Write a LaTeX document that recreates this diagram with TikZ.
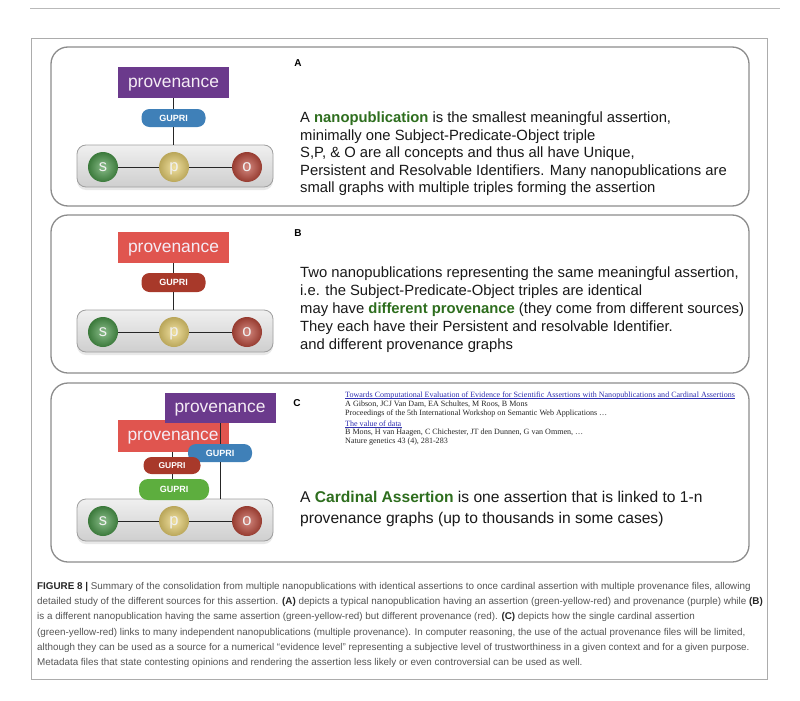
\documentclass[tikz,border=0pt]{standalone}
\usepackage{fontspec}
\setmainfont{Liberation Sans}
\newfontfamily\refserif{Liberation Serif}
\usetikzlibrary{shadows}
\definecolor{provpurple}{HTML}{6B3A8C}
\definecolor{provred}{HTML}{E0554F}
\definecolor{gupriblue}{HTML}{3F80B8}
\definecolor{gupridark}{HTML}{A8392A}
\definecolor{guprigreen}{HTML}{5DAE3E}
\definecolor{sgreen}{HTML}{4A984A}
\definecolor{pyellow}{HTML}{E8D070}
\definecolor{ored}{HTML}{BC4A3C}
\definecolor{boldgreen}{HTML}{2E6E1E}
\definecolor{panelgray}{HTML}{8C8C8C}
\definecolor{captiongray}{HTML}{555555}
\definecolor{linkblue}{HTML}{3030B0}
\definecolor{provtext}{HTML}{F5ECF5}
\newcommand\spogroup[2]{%
  \node[spobox] (#1box) at (175,#2) {};
  \node[spoball=sgreen] (#1s) at (103,#2+1) {s};
  \node[spoball=pyellow] (#1p) at (174,#2+1) {p};
  \node[spoball=ored] (#1o) at (247,#2+1) {o};
  \draw[link] (#1s) -- (#1p);
  \draw[link] (#1p) -- (#1o);
}
\begin{document}
\begin{tikzpicture}[x=1pt,y=-1pt,
  panel/.style={draw=panelgray, line width=1.3pt, rounded corners=17pt},
  prov/.style={rectangle, inner sep=0, minimum width=111pt, minimum height=31pt,
    text depth=0pt, text=provtext, font=\fontsize{17.4}{20}\selectfont},
  gupri/.style={rectangle, rounded corners=8pt, inner sep=0, minimum width=64pt,
    minimum height=18pt, text=white, font=\bfseries\fontsize{9}{10}\selectfont},
  spobox/.style={rectangle, rounded corners=9pt, minimum width=196pt, minimum height=42pt,
    top color=gray!12, bottom color=gray!38, draw=gray!75, line width=0.8pt,
    drop shadow={opacity=0.18, shadow xshift=0pt, shadow yshift=-3pt}},
  spoball/.style={circle, inner sep=0, minimum size=30pt, inner color=#1!65!white,
    outer color=#1!80!black, text=white!94!black, text depth=0pt,
    font=\fontsize{16.5}{18}\selectfont},
  link/.style={line width=1pt, black!85},
  body/.style={anchor=base west, inner sep=0, font=\fontsize{14.8}{17}\selectfont, text=black!90},
  bodyc/.style={body, font=\fontsize{15.6}{18}\selectfont},
  tag/.style={inner sep=0, font=\bfseries\fontsize{10}{11}\selectfont},
  capline/.style={anchor=base west, inner sep=0, font=\fontsize{9.85}{11}\selectfont, text=captiongray},
  refs/.style={anchor=base west, inner sep=0, font=\refserif\fontsize{8.05}{9}\selectfont, text=black!85},
  reflink/.style={refs, text=linkblue},
  uline/.style={draw=linkblue, line width=0.4pt}
]
\useasboundingbox (0,0) rectangle (800,701);
\fill[white] (0,0) rectangle (800,701);

% page rule and outer frame
\draw[gray!55, line width=0.8pt] (30,8) -- (780,8);
\draw[gray!65, line width=0.8pt] (31,38) rectangle (767,679);

% panels
\draw[panel] (51,47) rectangle (749,206);
\draw[panel] (51,215) rectangle (749,373);
\draw[panel] (51,383) rectangle (749,562);

% ---------- Panel A ----------
\node[tag] (la) at (298,63) {A};
\spogroup{a}{166}
\node[prov, fill=provpurple] (aprov) at (173.5,82.5) {provenance};
\node[gupri, fill=gupriblue] (agupri) at (173.5,118) {GUPRI};
\draw[link] (aprov.south) -- (agupri.north);
\draw[link] (agupri.south) -- (agupri.south |- abox.north);

\node[body] (ta1) at (300,122.5) {A \textcolor{boldgreen}{\textbf{nanopublication}} is the smallest meaningful assertion,};
\node[body] (ta2) at (300,140) {minimally one Subject-Predicate-Object triple};
\node[body] (ta3) at (300,157.5) {S,P, \& O are all concepts and thus all have Unique,};
\node[body] (ta4) at (300,175) {Persistent and Resolvable Identifiers. Many nanopublications are};
\node[body] (ta5) at (300,192.5) {small graphs with multiple triples forming the assertion};

% ---------- Panel B ----------
\node[tag] (lb) at (298,233) {B};
\spogroup{b}{331}
\node[prov, fill=provred] (bprov) at (173.5,247.5) {provenance};
\node[gupri, fill=gupridark, minimum height=19pt] (bgupri) at (173.5,282.5) {GUPRI};
\draw[link] (bprov.south) -- (bgupri.north);
\draw[link] (bgupri.south) -- (bgupri.south |- bbox.north);

\node[body] (tb1) at (300,277.5) {Two nanopublications representing the same meaningful assertion,};
\node[body] (tb2) at (300,295) {i.e. the Subject-Predicate-Object triples are identical};
\node[body] (tb3) at (300,313.5) {may have \textcolor{boldgreen}{\textbf{different provenance}} (they come from different sources)};
\node[body] (tb4) at (300,331.5) {They each have their Persistent and resolvable Identifier.};
\node[body] (tb5) at (300,349.5) {and different provenance graphs};

% ---------- Panel C ----------
\node[tag] (lc) at (297,403) {C};
\spogroup{c}{520}
\node[prov, fill=provred, minimum height=32pt] (cprov2) at (173,436) {provenance};
\node[prov, fill=provpurple, minimum height=30pt] (cprov1) at (220,408) {provenance};
\draw[link] (cprov1.south) -- (220,445);
\node[gupri, fill=gupriblue] (cgupri1) at (220,453) {GUPRI};
\draw[link] (cgupri1.south) -- (cgupri1.south |- cbox.north);
\node[gupri, fill=gupridark, minimum width=57pt, minimum height=17pt,
  font=\bfseries\fontsize{8.5}{10}\selectfont] (cgupri2) at (172,465.5) {GUPRI};
\node[gupri, fill=guprigreen, minimum width=70pt, minimum height=21pt, rounded corners=9pt] (cgupri3) at (174,489.5) {GUPRI};
\draw[link] (cprov2.south -| cgupri2.north) -- (cgupri2.north);
\draw[link] (cgupri2.south) -- (cgupri2.south |- cgupri3.north);

\node[reflink] (r1) at (345,397.6) {Towards Computational Evaluation of Evidence for Scientific Assertions with Nanopublications and Cardinal Assertions};
\draw[uline] ([yshift=-1pt]r1.base west) -- ([yshift=-1pt]r1.base east);
\node[refs] (r2) at (345,406) {A Gibson, JCJ Van Dam, EA Schultes, M Roos, B Mons};
\node[refs] (r3) at (345,415) {Proceedings of the 5th International Workshop on Semantic Web Applications \dots};
\node[reflink] (r4) at (345,426) {The value of data};
\draw[uline] ([yshift=-1pt]r4.base west) -- ([yshift=-1pt]r4.base east);
\node[refs] (r5) at (345,434.5) {B Mons, H van Haagen, C Chichester, JT den Dunnen, G van Ommen, \dots};
\node[refs] (r6) at (345,443.5) {Nature genetics 43 (4), 281-283};

\node[bodyc] (tc1) at (300,502.6) {A \textcolor{boldgreen}{\textbf{Cardinal Assertion}} is one assertion that is linked to 1-n};
\node[bodyc] (tc2) at (300,523.6) {provenance graphs (up to thousands in some cases)};

% ---------- Caption ----------
\node[capline] (c1) at (37,589.4) {\textcolor{black!85}{\textbf{FIGURE 8 |}} Summary of the consolidation from multiple nanopublications with identical assertions to once cardinal assertion with multiple provenance files, allowing};
\node[capline] (c2) at (37,604.6) {detailed study of the different sources for this assertion. \textcolor{black!85}{\textbf{(A)}} depicts a typical nanopublication having an assertion (green-yellow-red) and provenance (purple) while \textcolor{black!85}{\textbf{(B)}}};
\node[capline] (c3) at (37,619.8) {is a different nanopublication having the same assertion (green-yellow-red) but different provenance (red). \textcolor{black!85}{\textbf{(C)}} depicts how the single cardinal assertion};
\node[capline] (c4) at (37,635.0) {(green-yellow-red) links to many independent nanopublications (multiple provenance). In computer reasoning, the use of the actual provenance files will be limited,};
\node[capline] (c5) at (37,650.2) {although they can be used as a source for a numerical “evidence level” representing a subjective level of trustworthiness in a given context and for a given purpose.};
\node[capline] (c6) at (37,665.4) {Metadata files that state contesting opinions and rendering the assertion less likely or even controversial can be used as well.};
\end{tikzpicture}
\end{document}
